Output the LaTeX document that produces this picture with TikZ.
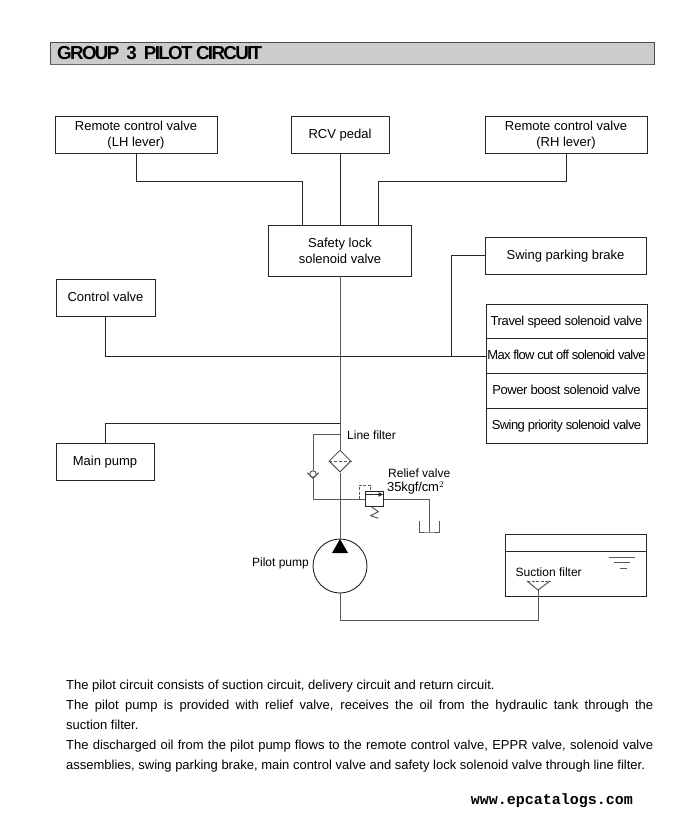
\documentclass[tikz,border=0pt]{standalone}
\usepackage{fontspec}
\setmainfont{Liberation Sans}
\newfontfamily\headfont[LetterSpace=-9]{Liberation Sans}
\newfontfamily\tagfont{Liberation Mono}
\usetikzlibrary{shapes.geometric,arrows.meta}
\tikzset{
	line/.style={draw=black!85,line width=0.9pt},
	thinline/.style={draw=black!65,line width=1pt},
	txt/.style={font=\fontsize{12}{16}\selectfont,inner sep=0pt,align=center},
	blockbox/.style={font=\fontsize{13}{16}\selectfont,inner sep=0pt,align=center,draw=black!85,line width=0.9pt,fill=white,minimum width=#1,minimum height=37pt},
	oneline/.style={text height=10pt,text depth=2.8pt},
	stackbox/.style={blockbox=161pt,minimum height=34.8pt,oneline},
}
\begin{document}
\begin{tikzpicture}[x=1pt,y=-1pt]
	\useasboundingbox (0,0) rectangle (684,816);
	% title bar
	\node[draw=black!70,line width=0.9pt,fill=black!20,minimum width=604pt,minimum height=22pt,inner sep=0pt](bar) at (352,53){};
	\draw[draw=black!60,line width=1.4pt] (bar.south west) -- (bar.south east);
	\node[anchor=west,inner sep=0pt,font=\headfont\bfseries\fontsize{18.8}{20}\selectfont](title) at (57,53){GROUP\ \ 3\ \ PILOT CIRCUIT};
	% blocks
	\node[blockbox=162pt](lh) at (136,135){Remote control valve\\(LH lever)};
	\node[blockbox=98pt,oneline](pedal) at (340,134.5){RCV pedal};
	\node[blockbox=162pt](rh) at (566,135){Remote control valve\\(RH lever)};
	\node[blockbox=143pt,minimum height=51pt](safety) at (340,250.5){Safety lock\\solenoid valve};
	\node[blockbox=161pt,oneline](brake) at (565.5,255.5){Swing parking brake};
	\node[blockbox=99pt,oneline](control) at (105.5,297.5){Control valve};
	\node[blockbox=98pt,oneline](mainpump) at (105,462){Main pump};
	\node[stackbox](travel) at (566.5,321.4){\addfontfeature{LetterSpace=-3}Travel speed solenoid valve};
	\node[stackbox](maxflow) at (566.5,356.2){\addfontfeature{LetterSpace=-5.5}Max flow cut off solenoid valve};
	\node[stackbox](boost) at (566.5,391){\addfontfeature{LetterSpace=-3.5}Power boost solenoid valve};
	\node[stackbox](priority) at (566.5,425.8){\addfontfeature{LetterSpace=-4.5}Swing priority solenoid valve};
	% remote control valve lines
	\coordinate (lhup) at (302,181);
	\coordinate (lhin) at (302,225);
	\coordinate (rhup) at (378,181);
	\coordinate (rhin) at (378,225);
	\draw[line] (lh.south) |- (lhup) -- (lhin);
	\draw[line] (rh.south) |- (rhup) -- (rhin);
	\draw[line] (pedal) -- (safety);
	% filter, pump
	\node[diamond,thinline,fill=white,minimum size=22pt,inner sep=0pt](filter) at (340,461){};
	\node[circle,line,fill=white,minimum size=54pt,inner sep=0pt](pump) at (340,566){};
	\draw[thinline] (safety.south) -- (filter.north);
	\draw[thinline] (filter.south) -- (pump.north);
	\draw[thinline,dash pattern=on 3pt off 2pt] (filter.west) -- (filter.east);
	\fill[black] (340,539) -- (348,553) -- (332,553) -- cycle;
	\draw[line] (control.south) |- (maxflow.west);
	\coordinate (brakeleg) at (451,356.2);
	\draw[line] (brake.west) -| (brakeleg);
	\coordinate (mainj) at (340,423);
	\draw[line] (mainpump.north) |- (mainj);
	% by-pass and check valve
	\coordinate (bypasstop) at (340,434);
	\coordinate (checkl) at (307.3,472.7);
	\coordinate (checkr) at (318.7,472.7);
	\coordinate (checkv) at (313,478.3);
	\node[circle,thinline,fill=white,minimum size=6.5pt,inner sep=0pt](check) at (313,474){};
	\draw[thinline] (bypasstop) -| (check.north);
	\draw[thinline] (checkl) -- (checkv) -- (checkr);
	% relief valve
	\node[line,fill=white,minimum width=18.5pt,minimum height=15.5pt,inner sep=0pt](relief) at (374.2,499){};
	\draw[thinline] (checkv) |- (relief.west);
	\draw[thinline,dash pattern=on 3pt off 1.5pt] (359.3,499) -- (359.3,485) -- (370.5,485) -- (370.5,491);
	\draw[line,-{Latex[length=5pt,width=5pt]}] (366,494.5) -- (383.5,494.5);
	\coordinate (springend) at (378.3,518.3);
	\draw[thinline] (371.7,507) -- (378.3,511.7) -- (370.7,515.7) -- (springend);
	% drain tank
	\coordinate (drainbend) at (429,499);
	\coordinate (drainend) at (429,532);
	\coordinate (drainl) at (419,521);
	\coordinate (drainr) at (439,521);
	\draw[thinline] (relief.east |- drainbend) -- (drainbend) -- (drainend);
	\draw[thinline] (drainl) |- (drainend) -| (drainr);
	% oil tank
	\node[blockbox=141pt,minimum height=62pt](tank) at (575.5,565){};
	\coordinate (tankl) at (505,551);
	\coordinate (tankr) at (646,551);
	\draw[line] (tankl) -- (tankr);
	\draw[thinline] (609,557) -- (635,557);
	\draw[thinline] (614,562.5) -- (630,562.5);
	\draw[thinline] (620,568) -- (627,568);
	% suction filter
	\coordinate (sfilter) at (538,590);
	\coordinate (sfilterl) at (527,581);
	\coordinate (sfilterr) at (550,581);
	\coordinate (suctionbend) at (538,620);
	\draw[thinline] (sfilterl) -- (sfilter) -- (sfilterr);
	\draw[thinline,dash pattern=on 3pt off 1.5pt] (sfilterl) -- (sfilterr);
	\draw[thinline] (pump.south) |- (suctionbend) -- (sfilter);
	% labels
	\node[txt,anchor=west](linefilter) at (347,435.5){Line filter};
	\node[txt,anchor=west](reliefname) at (388,473){Relief valve};
	\node[txt,anchor=west,font=\fontsize{13}{13}\selectfont](reliefset) at (387,488){\addfontfeature{LetterSpace=-1}35kgf/cm$^2$};
	\node[txt,anchor=east](pilotname) at (309,563.5){Pilot pump};
	\node[txt,anchor=west](suctionname) at (515.5,572){Suction filter};
	% description
	\node[txt,anchor=north west,align=justify,text width=587pt,font=\fontsize{13}{20}\selectfont](body) at (66,679.5){The pilot circuit consists of suction circuit, delivery circuit and return circuit.\\
	The pilot pump is provided with relief valve, receives the oil from the hydraulic tank through the\linebreak suction filter.\\
	The discharged oil from the pilot pump flows to the remote control valve, EPPR valve, solenoid valve\linebreak assemblies, swing parking brake, main control valve and safety lock solenoid valve through line filter.};
	\node[anchor=east,inner sep=0pt,font=\tagfont\bfseries\fontsize{15}{17}\selectfont](site) at (633,800.5){www.epcatalogs.com};
\end{tikzpicture}
\end{document}
